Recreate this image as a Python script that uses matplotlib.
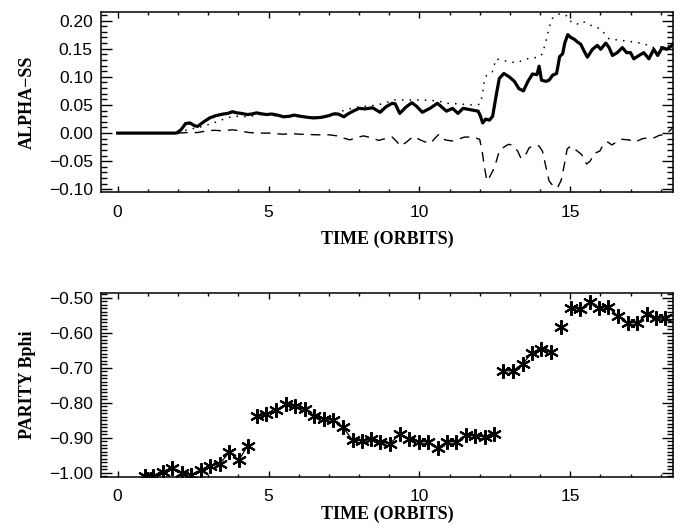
"""Alpha stress and Bphi parity vs time, two stacked IDL-style panels."""
import matplotlib
matplotlib.use("Agg")
import matplotlib.pyplot as plt
from matplotlib.ticker import MultipleLocator, FuncFormatter

# --- top panel: stress components (time in orbits) ---
t_total = [0.0, 1.95, 2.1, 2.25, 2.4, 2.55, 2.65, 2.85, 3.05, 3.25, 3.5, 3.65, 3.8,
           3.95, 4.1, 4.3, 4.45, 4.6, 4.8, 4.95, 5.1, 5.3, 5.5, 5.7, 5.85, 6.05, 6.3,
           6.5, 6.75, 7.0, 7.15, 7.3, 7.5, 7.6, 7.8, 8.0, 8.2, 8.45, 8.7, 8.9, 9.1,
           9.2, 9.35, 9.55, 9.75, 9.9, 10.1, 10.35, 10.6, 10.75, 10.9, 11.1, 11.28,
           11.45, 11.65, 11.95, 12.02, 12.1, 12.2, 12.32, 12.43, 12.55, 12.65, 12.8,
           12.98, 13.15, 13.3, 13.45, 13.6, 13.75, 13.9, 13.97, 14.05, 14.2, 14.3,
           14.42, 14.55, 14.65, 14.75, 14.82, 14.92, 15.02, 15.13, 15.24, 15.35,
           15.46, 15.57, 15.74, 15.9, 16.01, 16.18, 16.29, 16.4, 16.56, 16.73,
           16.87, 17.0, 17.11, 17.28, 17.44, 17.61, 17.77, 17.9, 18.05, 18.21, 18.38]
alpha_total = [0.0, 0.0, 0.006, 0.017, 0.018, 0.013, 0.012, 0.020, 0.027, 0.031, 0.034,
               0.035, 0.038, 0.036, 0.035, 0.033, 0.034, 0.036, 0.034, 0.033, 0.034,
               0.032, 0.029, 0.030, 0.032, 0.030, 0.028, 0.027, 0.028, 0.031, 0.034,
               0.034, 0.029, 0.033, 0.039, 0.044, 0.043, 0.045, 0.037, 0.047, 0.053,
               0.052, 0.035, 0.046, 0.054, 0.048, 0.037, 0.044, 0.053, 0.046, 0.039,
               0.044, 0.035, 0.044, 0.042, 0.039, 0.031, 0.018, 0.025, 0.023, 0.030,
               0.068, 0.097, 0.106, 0.100, 0.092, 0.079, 0.075, 0.092, 0.105, 0.104,
               0.119, 0.094, 0.092, 0.094, 0.103, 0.106, 0.136, 0.141, 0.160, 0.175,
               0.170, 0.167, 0.162, 0.158, 0.146, 0.135, 0.149, 0.156, 0.149, 0.160,
               0.152, 0.138, 0.143, 0.152, 0.143, 0.143, 0.132, 0.138, 0.143, 0.132,
               0.149, 0.138, 0.152, 0.149, 0.156]

t_maxwell = [2.0, 2.3, 2.6, 2.9, 3.1, 3.35, 3.6, 3.9, 4.3, 4.7, 5.0, 5.4, 5.8, 6.2, 6.6,
             7.0, 7.3, 7.6, 7.9, 8.3, 8.6, 8.9, 9.15, 9.6, 10.0, 10.4, 10.7, 10.9, 11.3,
             11.75, 12.0, 12.08, 12.16, 12.22, 12.42, 12.54, 12.76, 13.2, 13.64, 13.97,
             14.08, 14.2, 14.3, 14.41, 14.55, 14.66, 14.8, 14.92, 15.05, 15.24, 15.41,
             15.57, 15.8, 16.02, 16.2, 16.3, 16.5, 16.8, 17.1, 17.44, 17.77, 17.99,
             18.21, 18.38]
alpha_maxwell = [0.0, 0.006, 0.009, 0.013, 0.017, 0.021, 0.027, 0.030, 0.029, 0.033,
                 0.032, 0.030, 0.030, 0.029, 0.028, 0.031, 0.037, 0.042, 0.046, 0.048,
                 0.050, 0.054, 0.059, 0.059, 0.059, 0.058, 0.056, 0.053, 0.052, 0.050,
                 0.051, 0.065, 0.094, 0.102, 0.109, 0.132, 0.129, 0.125, 0.133, 0.135,
                 0.141, 0.164, 0.188, 0.204, 0.210, 0.212, 0.210, 0.208, 0.196, 0.194,
                 0.199, 0.194, 0.189, 0.185, 0.172, 0.167, 0.166, 0.164, 0.162, 0.159,
                 0.152, 0.153, 0.155, 0.157]

t_reynolds = [2.0, 2.3, 2.65, 2.95, 3.2, 3.5, 3.8, 4.05, 4.35, 4.8, 5.1, 5.45, 5.8, 6.05,
              6.6, 7.0, 7.3, 7.5, 7.7, 7.9, 8.15, 8.4, 8.65, 8.85, 9.1, 9.25, 9.38,
              9.57, 9.8, 9.95, 10.15, 10.38, 10.5, 10.65, 10.85, 11.08, 11.28, 11.5,
              11.77, 12.0, 12.08, 12.16, 12.24, 12.32, 12.49, 12.65, 12.8, 12.95, 13.08,
              13.26, 13.37, 13.5, 13.64, 13.8, 13.97, 14.08, 14.2, 14.3, 14.45, 14.58,
              14.7, 14.8, 14.9, 15.02, 15.19, 15.38, 15.54, 15.66, 15.8, 15.98, 16.12,
              16.25, 16.38, 16.56, 16.7, 16.95, 17.15, 17.39, 17.61, 17.8, 17.95, 18.1,
              18.27, 18.38]
alpha_reynolds = [0.0, 0.001, 0.001, 0.004, 0.005, 0.004, 0.006, 0.004, 0.001, 0.0, 0.0,
                  -0.002, -0.001, -0.002, -0.003, -0.003, -0.005, -0.009, -0.012, -0.008,
                  -0.005, -0.008, -0.013, -0.010, -0.007, -0.015, -0.023, -0.016, -0.006,
                  -0.010, -0.015, -0.018, -0.010, -0.002, -0.012, -0.014, -0.011, -0.007,
                  -0.007, -0.011, -0.032, -0.061, -0.085, -0.079, -0.061, -0.032, -0.025,
                  -0.020, -0.021, -0.032, -0.045, -0.041, -0.026, -0.022, -0.023, -0.032,
                  -0.061, -0.085, -0.095, -0.097, -0.084, -0.058, -0.028, -0.023, -0.030,
                  -0.038, -0.055, -0.050, -0.036, -0.032, -0.018, -0.016, -0.021, -0.015,
                  -0.011, -0.012, -0.016, -0.010, -0.008, -0.008, -0.004, -0.003, 0.003,
                  0.008]

# --- bottom panel: parity of Bphi, one run segment per list ---
t_parity = [
    [0.89, 1.18, 1.51, 1.81, 2.14, 2.44, 2.75, 3.06, 3.38, 3.70, 4.02, 4.31],
    [4.62, 4.93, 5.26, 5.59, 5.89, 6.21, 6.52, 6.83, 7.14, 7.46, 7.79, 8.10, 8.40,
     8.71, 9.02, 9.35, 9.67, 9.98, 10.29, 10.61, 10.91, 11.22, 11.55, 11.85, 12.16,
     12.49],
    [12.77, 13.10, 13.42, 13.73, 14.03, 14.36],
    [14.69],
    [15.02, 15.33, 15.66, 15.96, 16.27, 16.60, 16.91, 17.23, 17.56, 17.85, 18.14],
]
parity = [
    [-1.009, -1.009, -0.996, -0.985, -0.999, -1.005, -0.991, -0.980, -0.974, -0.941,
     -0.963, -0.922],
    [-0.836, -0.832, -0.820, -0.803, -0.810, -0.817, -0.836, -0.846, -0.850, -0.868,
     -0.907, -0.908, -0.902, -0.911, -0.916, -0.890, -0.902, -0.911, -0.911, -0.928,
     -0.911, -0.911, -0.893, -0.894, -0.897, -0.888],
    [-0.708, -0.708, -0.689, -0.657, -0.646, -0.654],
    [-0.584],
    [-0.530, -0.532, -0.512, -0.530, -0.527, -0.553, -0.571, -0.571, -0.546, -0.558,
     -0.558],
]

LABEL_FONT = dict(family="Liberation Serif", weight="bold", size=13)
TICK_FONT = "Liberation Sans"

# IDL-style long minus on tick labels
minus_fmt = FuncFormatter(lambda v, _: f"{v:.2f}".replace("-", "\u2212"))


def style_axis(ax, ylab, ymajor, ymin, xpad):
    ax.set_xlim(-0.55, 18.4)
    ax.xaxis.set_major_locator(MultipleLocator(5))
    ax.xaxis.set_minor_locator(MultipleLocator(1))
    ax.yaxis.set_major_locator(MultipleLocator(ymajor))
    ax.yaxis.set_minor_locator(MultipleLocator(ymin))
    ax.yaxis.set_major_formatter(minus_fmt)
    ax.tick_params(which="both", direction="in", top=True, right=True,
                   labelsize=12.5, width=1.0, colors="black")
    ax.tick_params(axis="x", which="major", length=4, pad=9)
    ax.tick_params(axis="x", which="minor", length=2.2)
    ax.tick_params(axis="y", which="major", length=8, pad=6)
    ax.tick_params(axis="y", which="minor", length=4)
    for lab in ax.get_xticklabels() + ax.get_yticklabels():
        lab.set_family(TICK_FONT)
    for s in ax.spines.values():
        s.set_linewidth(1.1)
    ax.set_xlabel("TIME (ORBITS)", labelpad=xpad, **LABEL_FONT)
    ax.set_ylabel(ylab, labelpad=9.5, **LABEL_FONT)


fig = plt.figure(figsize=(6.83, 5.28), dpi=100)
ax1 = fig.add_axes([0.148, 0.636, 0.837, 0.341])
ax2 = fig.add_axes([0.148, 0.097, 0.837, 0.348])

ax1.plot(t_maxwell, alpha_maxwell, color="black", lw=1.1, linestyle=(0, (1, 4)))
ax1.plot(t_reynolds, alpha_reynolds, color="black", lw=1.0, linestyle=(0, (7, 5)))
ax1.plot(t_total, alpha_total, color="black", lw=2.3)
ax1.set_ylim(-0.105, 0.215)
style_axis(ax1, "ALPHA\u2212SS", 0.05, 0.01, 8)

for ts, ps in zip(t_parity, parity):
    ax2.plot(ts, ps, color="black", lw=0.9, marker=(6, 2, 0), markersize=10.5,
             markeredgewidth=1.5)
ax2.set_ylim(-1.011, -0.486)
style_axis(ax2, "PARITY Bphi", 0.10, 0.01, 1)

fig.savefig("out.png", dpi=100)
